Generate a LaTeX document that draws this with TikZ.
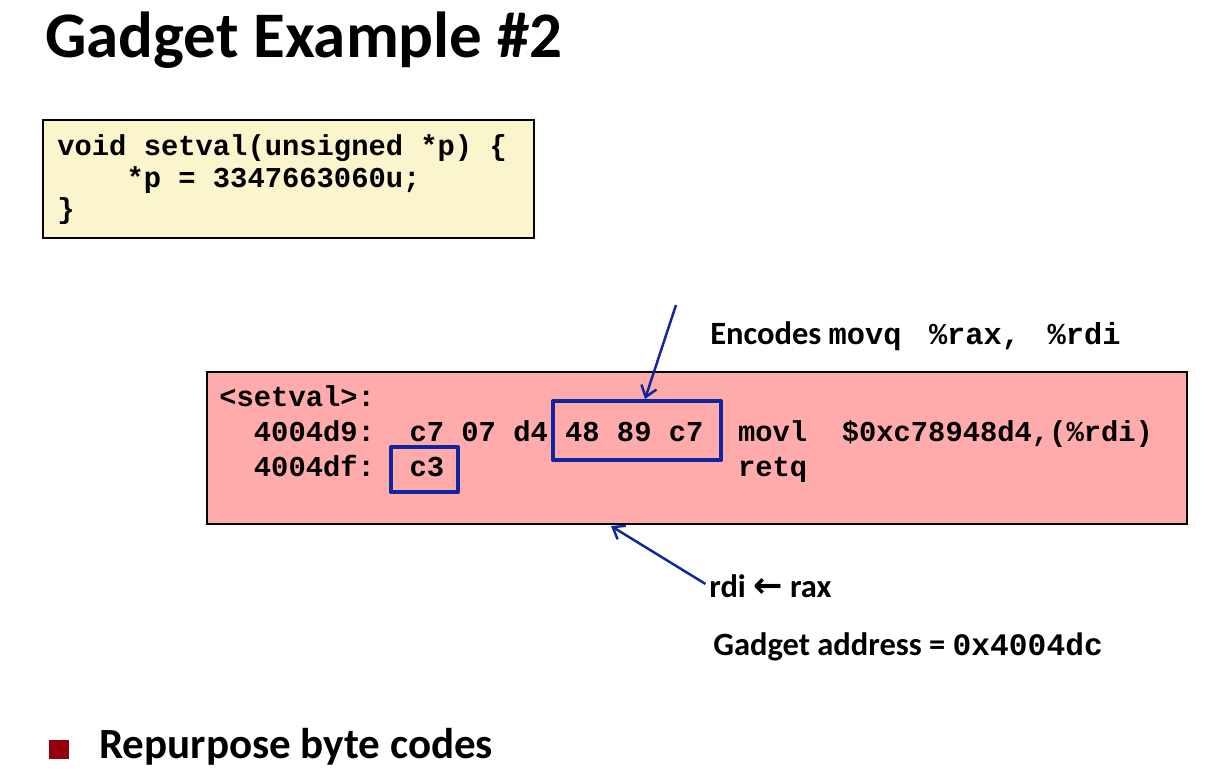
\documentclass[tikz,border=0pt]{standalone}
\usepackage{fontspec}
\setmainfont{Carlito}
\setmonofont{Liberation Mono}
\usepackage{tikz}
\usetikzlibrary{positioning, arrows.meta}

\definecolor{codeyel}{RGB}{250,245,205}
\definecolor{codepink}{RGB}{255,171,171}
\definecolor{hlblue}{RGB}{16,38,160}
\definecolor{bulred}{RGB}{150,0,10}

\tikzset{
  code/.style={anchor=base west, inner sep=0pt, font=\fontsize{16.4}{19}\selectfont\ttfamily\bfseries},
  lbl/.style={anchor=base west, inner sep=0pt, font=\fontsize{18.5}{21}\selectfont\bfseries},
  hl/.style={draw=hlblue, line width=2.3pt, line join=round, inner sep=0pt},
  ptr/.style={draw=hlblue, line width=1.4pt, -{Straight Barb[length=6pt,width=9pt]}}
}

\begin{document}
\begin{tikzpicture}[x=0.02cm, y=-0.02cm]
\useasboundingbox (0,0) rectangle (1230,774);
\node[anchor=base west, inner sep=0pt, font=\fontsize{37}{44}\selectfont\bfseries] (title) at (45,57) {Gadget Example \#2};

% C source
\draw[fill=codeyel, line width=0.8pt] (43,120) rectangle (534,238);
\node[code] (c1) at (57,155) {void setval(unsigned *p) \{};
\node[code] (c2) at (57,187) {~~~~*p = 3347663060u;};
\node[code] (c3) at (57,218) {\}};

% disassembly
\draw[fill=codepink, line width=0.8pt] (207,372) rectangle (1187,524);
\node[code] (d1) at (219,406) {<setval>:};
\node[code] (d2) at (219,441) {~~4004d9:~~c7~07~d4~48~89~c7~~movl~~\$0xc78948d4,(\%rdi)};
\node[code] (d3) at (219,476) {~~4004df:~~c3~~~~~~~~~~~~~~~~~retq};
\node[hl, minimum width=3.36cm, minimum height=1.18cm] (bytes) at (637,430.5) {};
\node[hl, minimum width=1.34cm, minimum height=0.9cm] (ret) at (424.5,469.5) {};

% labels
\node[lbl] (enc) at (710,344) {Encodes {\fontsize{17.3}{19}\selectfont\ttfamily movq~\hspace{0.3em}\%rax,~\hspace{0.3em}\%rdi}};
\coordinate (from) at (676,305);
\draw[ptr] (from) -- ([xshift=0.16cm]bytes.north);
\node[lbl] (mv) at (709,597) {rdi {\fontspec{DejaVu Sans}\bfseries\fontsize{20}{21}\selectfont ←} rax};
\coordinate (tip) at (611,526);
\draw[ptr] ([xshift=-2pt,yshift=1pt]mv.west) -- (tip);
\node[lbl] (addr) at (713,655) {Gadget address = {\fontsize{17.8}{19}\selectfont\ttfamily 0x4004dc}};

% bullet
\fill[bulred] (49,740) rectangle (69,759);
\node[anchor=base west, inner sep=0pt, font=\fontsize{24.5}{30}\selectfont\bfseries] (bul) at (99,758) {Repurpose byte codes};
\end{tikzpicture}
\end{document}
